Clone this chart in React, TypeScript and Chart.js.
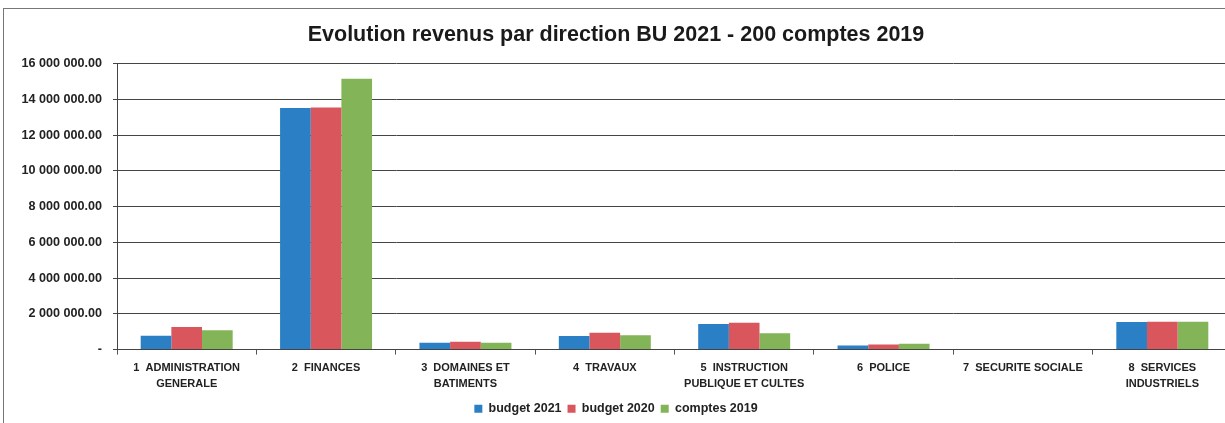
import React, { useEffect, useRef } from "react";
import { Chart, registerables } from "chart.js";

Chart.register(...registerables);

const categories: string[][] = [
  ["1  ADMINISTRATION", "GENERALE"],
  ["2  FINANCES"],
  ["3  DOMAINES ET", "BATIMENTS"],
  ["4  TRAVAUX"],
  ["5  INSTRUCTION", "PUBLIQUE ET CULTES"],
  ["6  POLICE"],
  ["7  SECURITE SOCIALE"],
  ["8  SERVICES", "INDUSTRIELS"],
];

const budget2021: number[] = [780000, 13520000, 380000, 760000, 1430000, 230000, 0, 1550000];
const budget2020: number[] = [1270000, 13560000, 440000, 940000, 1500000, 290000, 0, 1560000];
const comptes2019: number[] = [1080000, 15160000, 380000, 810000, 920000, 330000, 0, 1560000];

const seriesLabels: string[] = ["budget 2021", "budget 2020", "comptes 2019"];
const seriesColors: string[] = ["#2b80c5", "#d8565c", "#84b458"];

const TITLE = "Evolution revenus par direction BU 2021 - 200 comptes 2019";
const FONT = "'Liberation Sans', Arial, sans-serif";

function fmt(v: number): string {
  if (v === 0) return "-";
  return String(Math.round(v)).replace(/\B(?=(\d{3})+(?!\d))/g, " ") + ".00";
}

export default function App() {
  const ref = useRef<HTMLCanvasElement | null>(null);
  useEffect(() => {
    document.body.style.overflow = "hidden";
    if (!ref.current) return;
    const chart = new Chart(ref.current, {
      type: "bar",
      data: {
        labels: categories,
        datasets: [budget2021, budget2020, comptes2019].map((d, i) => ({
          label: seriesLabels[i],
          data: d,
          backgroundColor: seriesColors[i],
          borderWidth: 0,
          barPercentage: 1,
          categoryPercentage: 0.66,
        })),
      },
      options: {
        animation: false,
        responsive: false,
        maintainAspectRatio: false,
        layout: { padding: { left: 0, right: 0, top: 0, bottom: -2 } },
        plugins: {
          title: {
            display: true,
            text: TITLE,
            color: "#1a1a1a",
            font: { family: FONT, size: 21.5, weight: "bold" },
            padding: { top: 22, bottom: 16 },
          },
          legend: {
            position: "bottom",
            labels: {
              boxWidth: 8,
              boxHeight: 8,
              padding: 6,
              color: "#222",
              font: { family: FONT, size: 12.5, weight: "bold" },
            },
          },
          tooltip: { enabled: false },
        },
        scales: {
          x: {
            grid: { display: true, drawOnChartArea: false, offset: true, tickLength: 5, color: "#555" },
            border: { display: true, color: "#444", width: 1 },
            ticks: {
              color: "#222",
              padding: 5,
              maxRotation: 0,
              autoSkip: false,
              font: { family: FONT, size: 11, weight: "bold", lineHeight: 1.45 },
            },
          },
          y: {
            min: 0,
            max: 16000000,
            afterFit: (s: any) => {
              s.width = 117;
            },
            grid: { color: "#444", lineWidth: 1, tickLength: 4 },
            border: { display: true, color: "#444", width: 1 },
            ticks: {
              stepSize: 2000000,
              color: "#222",
              padding: 11,
              font: { family: FONT, size: 12.6, weight: "bold" },
              callback: (v: any) => fmt(Number(v)),
            },
          },
        },
      },
    });
    return () => chart.destroy();
  }, []);

  return (
    <div
      style={{
        position: "absolute",
        left: 0,
        top: 0,
        width: 1232,
        height: 423,
        background: "#fff",
        overflow: "hidden",
      }}
    >
      <div
        style={{
          position: "absolute",
          left: 3,
          top: 8,
          width: 1240,
          height: 430,
          borderLeft: "1.5px solid #777",
          borderTop: "1.5px solid #777",
        }}
      />
      <canvas ref={ref} width={1232} height={423} style={{ position: "absolute", left: 0, top: 0 }} />
    </div>
  );
}
